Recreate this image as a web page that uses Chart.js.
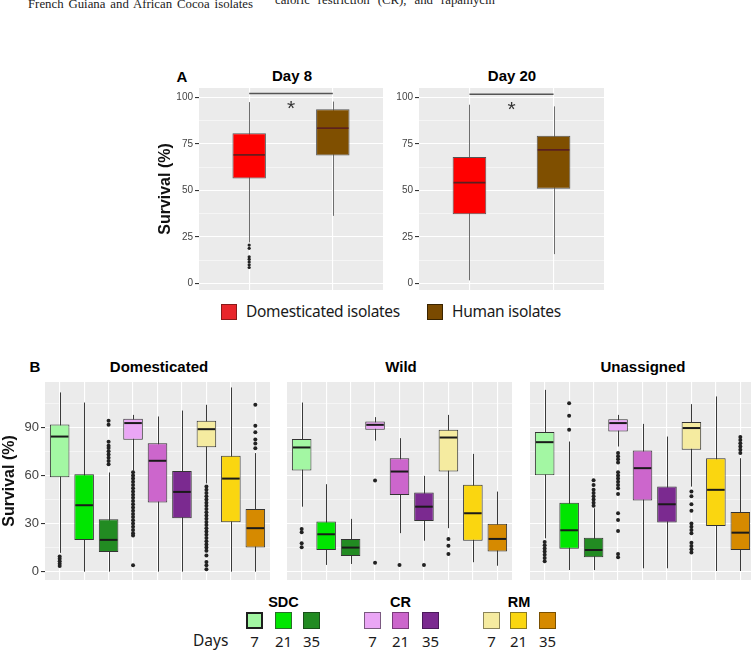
<!DOCTYPE html>
<html>
<head>
<meta charset="utf-8">
<title>Survival boxplots</title>
<script src="https://cdn.jsdelivr.net/npm/chart.js@4.4.1/dist/chart.umd.min.js"></script>
<style>
  html, body { margin: 0; padding: 0; background: #fff; }
  body { width: 751px; height: 653px; position: relative; overflow: hidden; font-family: "Liberation Sans", Arial, sans-serif; color: #000; }
  canvas { position: absolute; }
  .lbl { position: absolute; white-space: nowrap; line-height: 1; transform: translate(-50%, -50%); }
  .bold { font-weight: bold; }
  .prose { position: absolute; font-family: "Liberation Serif", serif; font-size: 12.8px; line-height: 15px; white-space: nowrap; color: #222; }
  .sw { position: absolute; box-sizing: border-box; }
  .leg { position: absolute; font-family: "Noto Sans", sans-serif; white-space: nowrap; line-height: 1; color: #1a1a1a; }
</style>
</head>
<body>

<div class="prose" data-w="225" style="left:28px; top:-3px;">French Guiana and African Cocoa isolates</div>
<div class="prose" data-w="220" style="left:275px; top:-7px;">caloric restriction (CR), and rapamycin</div>

<div class="lbl bold" style="left:182px; top:76px; font-size:15px;">A</div>
<div class="lbl bold" style="left:292px; top:75px; font-size:15px;">Day 8</div>
<div class="lbl bold" style="left:512px; top:75px; font-size:15px;">Day 20</div>

<canvas id="day8" width="233" height="202" style="left:150px; top:88px;"></canvas>
<canvas id="day20" width="215" height="202" style="left:389px; top:88px;"></canvas>

<div id="legendA"></div>

<div class="lbl bold" style="left:35px; top:366px; font-size:15px;">B</div>
<div class="lbl bold" style="left:159px; top:366px; font-size:15px;">Domesticated</div>
<div class="lbl bold" style="left:401px; top:366px; font-size:15px;">Wild</div>
<div class="lbl bold" style="left:643px; top:366px; font-size:15px;">Unassigned</div>

<canvas id="domesticated" width="270" height="198" style="left:0px; top:382px;"></canvas>
<canvas id="wild" width="225" height="198" style="left:287px; top:382px;"></canvas>
<canvas id="unassigned" width="225" height="198" style="left:530px; top:382px;"></canvas>

<div id="legendB"></div>

<script>
// ---------- Panel A: isolate origin ----------
const originLabels = ['Domesticated isolates', 'Human isolates'];
const originColors = ['#ff0000', '#7f4f00'];

const day8Lo  = [22.0, 36.3];
const day8Q1  = [56.4, 68.8];
const day8Med = [69.1, 83.5];
const day8Q3  = [80.8, 93.7];
const day8Hi  = [97.5, 97.8];
const day8Out = [[20.6, 18.8, 14.3, 13.0, 11.5, 10.0, 8.5], []];

const day20Lo  = [1.6, 15.7];
const day20Q1  = [37.2, 50.9];
const day20Med = [54.2, 71.8];
const day20Q3  = [68.0, 79.4];
const day20Hi  = [96.1, 95.2];
const day20Out = [[], []];

const ticksA = [0, 25, 50, 75, 100];
const gridA = [0, 12.5, 25, 37.5, 50, 62.5, 75, 87.5, 100];

// ---------- Panel B: treatment x day ----------
const treatments = ['SDC', 'CR', 'RM'];
const dayLabels = ['7', '21', '35'];
const treatmentColors = ['#a3f7a3', '#00e600', '#228b22',
                         '#eaa6f5', '#cc66cc', '#7b2a90',
                         '#f5eba0', '#fad610', '#d68a00'];

const domLo  = [11.7, 0, 0, 63, 0, 0, 55, 0, 0];
const domQ1  = [58.9, 19.8, 12.3, 82.2, 43.1, 33.3, 77.6, 30.8, 15.0];
const domMed = [84.2, 41.4, 19.8, 92.6, 69.1, 49.7, 88.8, 58.0, 27.1];
const domQ3  = [91.7, 60.7, 32.7, 95.3, 80.1, 62.8, 94.0, 72.2, 39.1];
const domHi  = [111.7, 105.4, 61.8, 97.7, 96.7, 100.4, 104.0, 114.8, 73.9];
const domOut = [
  [9.5, 8, 6.5, 5, 3.5],
  [],
  [94, 91.5, 81, 78.5, 77, 75, 73, 71, 69, 67],
  [62, 60, 58, 56, 54, 52, 50, 48, 46, 44, 42, 40, 38, 36, 34, 32, 30, 28, 26, 24, 22.5, 4],
  [],
  [],
  [53, 51, 49, 47, 45, 43, 41, 39, 37, 35, 33, 31, 29, 27, 25, 23, 21, 19, 17, 15, 13, 10, 6, 4, 1.5],
  [],
  [104, 90.9, 86.9, 82.3, 79.8, 76.9]
];

const wildLo  = [40.5, 4.2, 4.8, 81.7, 24.0, 19.3, 27.1, 5.9, 3.7];
const wildQ1  = [63.0, 13.5, 9.8, 88.4, 47.8, 31.6, 62.4, 19.3, 12.5];
const wildMed = [77.4, 23.3, 15.0, 91.5, 62.4, 40.5, 83.6, 36.4, 20.4];
const wildQ3  = [82.6, 31.2, 20.4, 93.6, 70.7, 49.3, 88.4, 54.1, 29.8];
const wildHi  = [105.4, 54.5, 32.9, 96.3, 83.2, 59.7, 97.7, 73.4, 49.9];
const wildOut = [[26.6, 24.5, 17.7, 15.2], [], [], [56.8, 5.6], [4.2], [4.2], [20.4, 16.2, 11.0], [], []];

const unaLo  = [20.8, 1.0, 1.0, 78.0, 2.1, 2.1, 53.0, 0.4, 0.4];
const unaQ1  = [60.1, 14.3, 9.0, 87.3, 44.3, 30.6, 75.9, 28.5, 13.5];
const unaMed = [80.7, 25.8, 13.5, 92.6, 64.5, 42.0, 89.5, 51.0, 24.3];
const unaQ3  = [87.0, 43.0, 21.2, 95.0, 75.5, 53.0, 93.2, 70.7, 37.2];
const unaHi  = [113.3, 81.1, 39.5, 97.7, 92.1, 84.2, 104.4, 109.2, 70.7];
const unaOut = [
  [18.5, 16.5, 14.5, 12.5, 10.5, 8.5, 6.5],
  [105, 97.1, 88.4],
  [57, 54, 51, 49, 47, 45, 43, 41],
  [74, 72, 70, 68, 62, 60, 58, 56, 54, 52, 48.4, 36.4, 32.2, 25.3, 11, 9],
  [],
  [],
  [50, 47, 42, 38, 30, 28, 26, 24, 18, 16, 14, 12],
  [],
  [84, 82, 80, 78, 76, 74]
];

const ticksB = [0, 30, 60, 90];
const gridB = [0, 15, 30, 45, 60, 75, 90, 105];

// spread the cut-off body text lines to their justified width
document.querySelectorAll('.prose').forEach(el => {
  const target = +el.dataset.w;
  const gaps = el.textContent.split(' ').length - 1;
  const extra = (target - el.getBoundingClientRect().width) / gaps;
  el.style.wordSpacing = Math.max(0, extra) + 'px';
});

// grey ggplot panel behind everything
const panelBg = {
  id: 'panelBg',
  beforeDraw(chart) {
    const a = chart.chartArea;
    chart.ctx.save();
    chart.ctx.fillStyle = '#ebebeb';
    chart.ctx.fillRect(a.left, a.top, a.right - a.left, a.bottom - a.top);
    chart.ctx.restore();
  }
};

// whiskers, medians, outliers, significance bar
const boxplot = {
  id: 'boxplot',
  beforeDatasetsDraw(chart, args, opts) {
    const { ctx, scales: { x, y } } = chart;
    ctx.save();
    ctx.strokeStyle = opts.whisker;
    ctx.lineWidth = 1;
    opts.lo.forEach((v, i) => {
      const px = Math.round(x.getPixelForValue(i)) + 0.5;
      ctx.beginPath();
      ctx.moveTo(px, y.getPixelForValue(v));
      ctx.lineTo(px, y.getPixelForValue(opts.hi[i]));
      ctx.stroke();
    });
    ctx.restore();
  },
  afterDatasetsDraw(chart, args, opts) {
    const { ctx, scales: { x, y } } = chart;
    const meta = chart.getDatasetMeta(0);
    ctx.save();
    ctx.strokeStyle = opts.median;
    ctx.lineWidth = opts.medianWidth;
    meta.data.forEach((bar, i) => {
      const { x: bx, width } = bar.getProps(['x', 'width'], true);
      const py = y.getPixelForValue(opts.med[i]);
      ctx.beginPath();
      ctx.moveTo(bx - width / 2 + 1, py);
      ctx.lineTo(bx + width / 2 - 1, py);
      ctx.stroke();
    });
    ctx.fillStyle = opts.pointColor;
    opts.out.forEach((pts, i) => {
      const px = x.getPixelForValue(i);
      pts.forEach(v => {
        ctx.beginPath();
        ctx.arc(px, y.getPixelForValue(v), opts.pointRadius, 0, Math.PI * 2);
        ctx.fill();
      });
    });
    if (opts.sig) {
      const s = opts.sig;
      const py = y.getPixelForValue(s.at);
      const x0 = x.getPixelForValue(s.from), x1 = x.getPixelForValue(s.to);
      ctx.strokeStyle = '#555';
      ctx.lineWidth = 1.5;
      ctx.beginPath();
      ctx.moveTo(x0, py);
      ctx.lineTo(x1, py);
      ctx.stroke();
      ctx.fillStyle = '#333';
      ctx.font = '21px "Liberation Sans", Arial, sans-serif';
      ctx.textAlign = 'center';
      ctx.textBaseline = 'top';
      ctx.fillText('*', (x0 + x1) / 2, py + 5);
    }
    ctx.restore();
  }
};

function boxChart(id, cfg) {
  const n = cfg.q1.length;
  const isMajor = v => cfg.majors.includes(v);
  return new Chart(document.getElementById(id), {
    type: 'bar',
    data: {
      datasets: [{
        data: cfg.q1.map((v, i) => ({ x: i, y: [v, cfg.q3[i]] })),
        backgroundColor: cfg.colors,
        borderColor: cfg.edge,
        borderWidth: 1,
        borderSkipped: false,
        categoryPercentage: 1,
        barPercentage: cfg.boxWidth
      }]
    },
    options: {
      responsive: false,
      animation: false,
      events: [],
      layout: { padding: 0 },
      plugins: {
        legend: { display: false },
        tooltip: { enabled: false },
        boxplot: {
          lo: cfg.lo, med: cfg.med, hi: cfg.hi, out: cfg.out,
          whisker: cfg.whisker, median: cfg.median, medianWidth: cfg.medianWidth,
          pointColor: '#222', pointRadius: cfg.pointRadius, sig: cfg.sig || null
        }
      },
      scales: {
        x: {
          type: 'linear',
          min: -0.6,
          max: n - 0.4,
          offset: false,
          afterBuildTicks: s => { s.ticks = cfg.q1.map((_, i) => ({ value: i })); },
          ticks: { display: false },
          grid: { color: '#ffffff', lineWidth: 1.1, drawTicks: false, offset: false },
          border: { display: false },
          afterFit: s => { s.height = 0; s.paddingLeft = 0; s.paddingRight = 0; }
        },
        y: {
          min: cfg.yMin,
          max: cfg.yMax,
          afterBuildTicks: s => { s.ticks = cfg.grid.map(v => ({ value: v })); },
          ticks: {
            display: cfg.axisWidth > 0,
            autoSkip: false,
            padding: 2,
            color: '#444',
            font: { family: '"Liberation Sans", Arial, sans-serif', size: cfg.tickSize },
            callback: v => isMajor(v) ? String(v) : ''
          },
          grid: {
            color: '#ffffff',
            lineWidth: c => (c.tick && isMajor(c.tick.value)) ? 1.1 : 0.5,
            drawTicks: cfg.axisWidth > 0,
            tickLength: 4,
            tickColor: c => (c.tick && isMajor(c.tick.value)) ? '#333' : 'rgba(0,0,0,0)'
          },
          border: { display: false },
          title: {
            display: !!cfg.yTitle,
            text: cfg.yTitle || '',
            color: '#111',
            padding: { top: cfg.titlePad || 0, bottom: 0 },
            font: { family: '"Liberation Sans", Arial, sans-serif', size: 16, weight: 'bold' }
          },
          afterFit: s => { s.width = cfg.axisWidth; s.paddingTop = 0; s.paddingBottom = 0; }
        }
      }
    },
    plugins: [panelBg, boxplot]
  });
}

const commonA = {
  colors: originColors, edge: '#555555', boxWidth: 0.4,
  whisker: '#6e6e6e', median: '#5a1f1f', medianWidth: 1.6, pointRadius: 1.6,
  yMin: -3.6, yMax: 105.1, majors: ticksA, grid: gridA, tickSize: 10
};

boxChart('day8', Object.assign({}, commonA, {
  lo: day8Lo, q1: day8Q1, med: day8Med, q3: day8Q3, hi: day8Hi, out: day8Out,
  axisWidth: 49, yTitle: 'Survival (%)', titlePad: 6,
  sig: { from: 0, to: 1, at: 102.2 }
}));

boxChart('day20', Object.assign({}, commonA, {
  lo: day20Lo, q1: day20Q1, med: day20Med, q3: day20Q3, hi: day20Hi, out: day20Out,
  axisWidth: 30,
  sig: { from: 0, to: 1, at: 101.7 }
}));

const commonB = {
  colors: treatmentColors, edge: '#333333', boxWidth: 0.8,
  whisker: '#3a3a3a', median: '#1a1a1a', medianWidth: 2, pointRadius: 2,
  yMin: -5.2, yMax: 118.2, majors: ticksB, grid: gridB, tickSize: 13
};

boxChart('domesticated', Object.assign({}, commonB, {
  lo: domLo, q1: domQ1, med: domMed, q3: domQ3, hi: domHi, out: domOut,
  axisWidth: 45, yTitle: 'Survival (%)', titlePad: 0
}));

boxChart('wild', Object.assign({}, commonB, {
  lo: wildLo, q1: wildQ1, med: wildMed, q3: wildQ3, hi: wildHi, out: wildOut,
  axisWidth: 0
}));

boxChart('unassigned', Object.assign({}, commonB, {
  lo: unaLo, q1: unaQ1, med: unaMed, q3: unaQ3, hi: unaHi, out: unaOut,
  axisWidth: 0
}));

// ---------- legends (html) ----------
const legendA = document.getElementById('legendA');
const legendAPos = [221, 427];
const legendAFill = ['#e8262b', '#7a4a00'];
const legendAEdge = ['#8a1a1a', '#3a2400'];
originLabels.forEach((name, i) => {
  const sw = document.createElement('div');
  sw.className = 'sw';
  sw.style.cssText = `left:${legendAPos[i]}px; top:304px; width:16px; height:16px; background:${legendAFill[i]}; border:1px solid ${legendAEdge[i]};`;
  legendA.appendChild(sw);
  const t = document.createElement('div');
  t.className = 'leg';
  t.style.cssText = `left:${legendAPos[i] + 25}px; top:304px; font-size:15.5px; letter-spacing:-0.3px;`;
  t.textContent = name;
  legendA.appendChild(t);
});

const legendB = document.getElementById('legendB');
const swatchLeft = [246, 275, 303, 364, 392, 422, 483, 510, 539];
const headerCenter = [283.5, 400.5, 519];
const swatchEdge = ['#1e1e1e', '#2a6e2a', '#1a4f1a', '#7a5a80', '#7a3a7a', '#4a1a5a', '#8a845a', '#8a7a20', '#7a5000'];
treatments.forEach((name, g) => {
  const h = document.createElement('div');
  h.className = 'lbl bold';
  h.style.cssText = `left:${headerCenter[g]}px; top:602px; font-size:14.5px;`;
  h.textContent = name;
  legendB.appendChild(h);
  dayLabels.forEach((d, k) => {
    const i = g * 3 + k;
    const sw = document.createElement('div');
    sw.className = 'sw';
    sw.style.cssText = `left:${swatchLeft[i]}px; top:612px; width:17px; height:17px; background:${treatmentColors[i]}; border:${i === 0 ? 2 : 1}px solid ${swatchEdge[i]};`;
    legendB.appendChild(sw);
    const t = document.createElement('div');
    t.className = 'leg';
    t.style.cssText = `left:${swatchLeft[i] + 8.5}px; top:641px; font-size:15px; transform:translate(-50%,-50%);`;
    t.textContent = d;
    legendB.appendChild(t);
  });
});
const days = document.createElement('div');
days.className = 'leg';
days.style.cssText = 'left:193px; top:641px; font-size:15.5px; transform:translateY(-50%);';
days.textContent = 'Days';
legendB.appendChild(days);
</script>
</body>
</html>
